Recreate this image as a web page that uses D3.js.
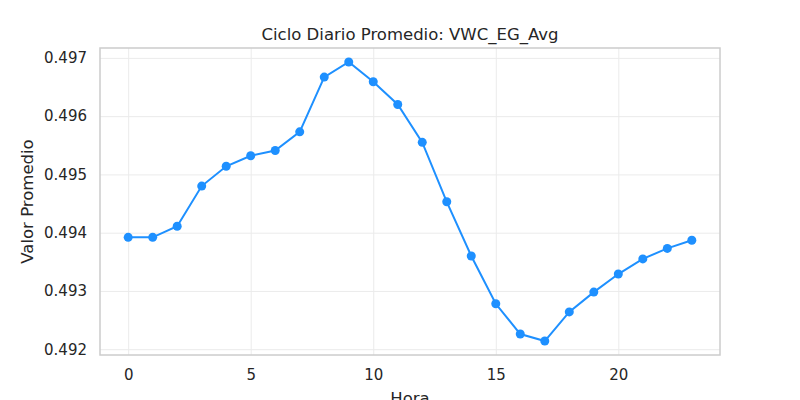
<!DOCTYPE html>
<html>
<head>
<meta charset="utf-8">
<script src="https://cdn.jsdelivr.net/npm/d3@7"></script>
<style>
  body { margin: 0; background: #fff; }
  svg { font-family: "DejaVu Sans", sans-serif; }
</style>
</head>
<body>
<svg id="chart" width="800" height="400"></svg>
<script>
const horas = [0, 1, 2, 3, 4, 5, 6, 7, 8, 9, 10, 11, 12, 13, 14, 15, 16, 17, 18, 19, 20, 21, 22, 23];
const valores = [0.49392, 0.49392, 0.49411, 0.49480, 0.49514, 0.49532, 0.49541, 0.49573,
                 0.49667, 0.49693, 0.49659, 0.49620, 0.49555, 0.49453, 0.49360, 0.49278,
                 0.49226, 0.49214, 0.49264, 0.49298, 0.49329, 0.49355, 0.49373, 0.49387];
const xTicks = [0, 5, 10, 15, 20];
const yTicks = [0.492, 0.493, 0.494, 0.495, 0.496, 0.497];

const margin = {left: 100, right: 80, top: 48, bottom: 45};
const width = 800, height = 400;
const innerWidth = width - margin.left - margin.right;
const innerHeight = height - margin.top - margin.bottom;

const svg = d3.select('#chart');
const g = svg.append('g')
    .attr('transform', `translate(${margin.left}, ${margin.top})`);

// matplotlib-style 5% margins
const xPad = (d3.max(horas) - d3.min(horas)) * 0.05;
const yPad = (d3.max(valores) - d3.min(valores)) * 0.05;

const xScale = d3.scaleLinear()
    .domain([d3.min(horas) - xPad, d3.max(horas) + xPad])
    .range([0, innerWidth]);

const yScale = d3.scaleLinear()
    .domain([d3.min(valores) - yPad, d3.max(valores) + yPad])
    .range([innerHeight, 0]);

// grid
g.append('g')
    .call(d3.axisBottom(xScale).tickValues(xTicks).tickSize(innerHeight).tickFormat(''))
    .call(a => a.select('.domain').remove())
    .call(a => a.selectAll('text').remove())
    .call(a => a.selectAll('line').style('stroke', '#ebebeb').style('stroke-width', 1));

g.append('g')
    .call(d3.axisLeft(yScale).tickValues(yTicks).tickSize(-innerWidth).tickFormat(''))
    .call(a => a.select('.domain').remove())
    .call(a => a.selectAll('text').remove())
    .call(a => a.selectAll('line').style('stroke', '#ebebeb').style('stroke-width', 1));

// tick labels
const xAxisGroup = g.append('g')
    .attr('transform', `translate(0, ${innerHeight})`)
    .call(d3.axisBottom(xScale).tickValues(xTicks).tickSize(0).tickPadding(14).tickFormat(d3.format('d')));
xAxisGroup.select('.domain').remove();

const yAxisGroup = g.append('g')
    .call(d3.axisLeft(yScale).tickValues(yTicks).tickSize(0).tickPadding(13).tickFormat(d3.format('.3f')));
yAxisGroup.select('.domain').remove();

[xAxisGroup, yAxisGroup].forEach(a => a.selectAll('text')
    .style('font-size', '15px')
    .style('fill', '#262626')
    .style('font-family', '"DejaVu Sans", sans-serif'));

// spines
g.append('rect')
    .attr('x', 0)
    .attr('y', 0)
    .attr('width', innerWidth)
    .attr('height', innerHeight)
    .style('fill', 'none')
    .style('stroke', '#cccccc')
    .style('stroke-width', 1.5);

// line + markers
const line = d3.line()
    .x((d, i) => xScale(horas[i]))
    .y(d => yScale(d));

g.append('path')
    .datum(valores)
    .attr('d', line)
    .style('fill', 'none')
    .style('stroke', '#1e90ff')
    .style('stroke-width', 2);

g.selectAll('.punto')
    .data(valores)
    .join('circle')
    .classed('punto', true)
    .attr('cx', (d, i) => xScale(horas[i]))
    .attr('cy', d => yScale(d))
    .attr('r', 4.5)
    .style('fill', '#1e90ff');

// labels
svg.append('text')
    .attr('x', margin.left + innerWidth / 2)
    .attr('y', 40)
    .style('text-anchor', 'middle')
    .style('font-size', '16.5px')
    .style('fill', '#262626')
    .text('Ciclo Diario Promedio: VWC_EG_Avg');

svg.append('text')
    .attr('x', margin.left + innerWidth / 2)
    .attr('y', 404)
    .style('text-anchor', 'middle')
    .style('font-size', '16.5px')
    .style('fill', '#262626')
    .text('Hora');

svg.append('text')
    .attr('transform', `translate(33, ${margin.top + innerHeight / 2}) rotate(-90)`)
    .style('text-anchor', 'middle')
    .style('font-size', '16.5px')
    .style('fill', '#262626')
    .text('Valor Promedio');
</script>
</body>
</html>
